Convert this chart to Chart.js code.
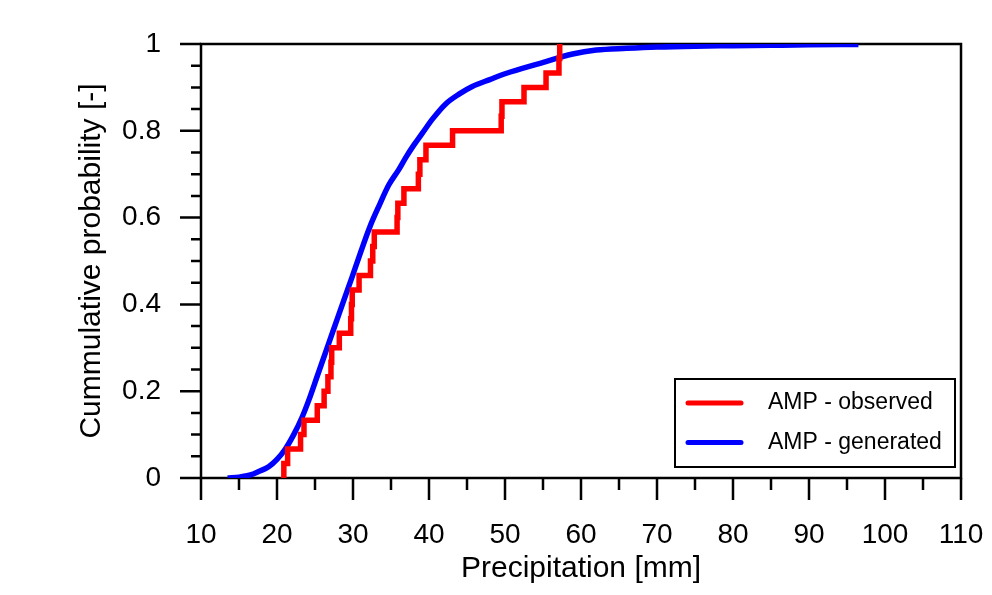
<!DOCTYPE html>
<html>
<head>
<meta charset="utf-8">
<script src="https://cdn.jsdelivr.net/npm/chart.js@4.4.0/dist/chart.umd.min.js"></script>
<style>
    body { margin: 0; background: #fff; }
    #wrap { width: 992px; height: 595px; }
</style>
</head>
<body>
<div id="wrap"><canvas id="cdfChart" width="992" height="595"></canvas></div>
<script>
// observed annual maximum precipitation (sorted) and its empirical probability
const observedX = [20.9, 21.4, 23.1, 23.55, 25.3, 26.2, 26.7, 27.1, 27.2, 28.2,
    29.7, 29.8, 29.9, 30.8, 32.3, 32.6, 32.8, 35.8, 35.9, 36.7,
    38.6, 38.8, 39.6, 43.1, 49.5, 49.6, 52.5, 55.4, 57.1, 57.2];
const observedP = [0.0333, 0.0667, 0.1, 0.1333, 0.1667, 0.2, 0.2333, 0.2667, 0.3, 0.3333,
    0.3667, 0.4, 0.4333, 0.4667, 0.5, 0.5333, 0.5667, 0.6, 0.6333, 0.6667,
    0.7, 0.7333, 0.7667, 0.8, 0.8333, 0.8667, 0.9, 0.9333, 0.9667, 1.0];

// generated series
const generatedX = [13.5, 15, 16.5, 17.6, 18.9, 20, 21.1, 22.2, 23.3, 24.2,
    25.3, 26.2, 27.5, 28.8, 29.9, 31, 32.2, 33.5, 34.7, 36,
    37, 38, 39.1, 40.5, 42.2, 44, 45.7, 48, 50.1, 54.5,
    58.9, 62, 66, 70, 75, 80, 85, 90, 96.5];
const generatedP = [0, 0.002, 0.007, 0.015, 0.026, 0.043, 0.067, 0.1, 0.14, 0.18,
    0.235, 0.28, 0.345, 0.41, 0.464, 0.52, 0.578, 0.63, 0.675, 0.71,
    0.74, 0.767, 0.794, 0.828, 0.862, 0.885, 0.902, 0.918, 0.932, 0.955,
    0.977, 0.986, 0.99, 0.993, 0.995, 0.996, 0.997, 0.998, 0.999];

const xTickValues = [10, 20, 30, 40, 50, 60, 70, 80, 90, 100, 110];
const xMinorValues = [15, 25, 35, 45, 55, 65, 75, 85, 95, 105];
const yTickValues = [0, 0.2, 0.4, 0.6, 0.8, 1];
const yMinorValues = [0.05, 0.1, 0.15, 0.25, 0.3, 0.35, 0.45, 0.5, 0.55,
    0.65, 0.7, 0.75, 0.85, 0.9, 0.95];

const labels = ['AMP - observed', 'AMP - generated'];
const FONT = "'Liberation Sans', Arial, sans-serif";

// observed starts from zero at the first value
let observedPoints = [{ x: observedX[0], y: 0 }];
observedX.forEach((x, i) => observedPoints.push({ x: x, y: observedP[i] }));
let generatedPoints = generatedX.map((x, i) => ({ x: x, y: generatedP[i] }));

// no extra room for half tick labels, the box is fixed
function noPad(s) {
    s.paddingLeft = 0;
    s.paddingRight = 0;
    s.paddingTop = 0;
    s.paddingBottom = 0;
}

// frame + major/minor tick marks drawn outside the plot box
const frameTicks = {
    id: 'frameTicks',
    beforeDatasetsDraw(chart) {
        const { ctx, chartArea: a, scales: { x, y } } = chart;
        ctx.save();
        ctx.strokeStyle = '#000';
        ctx.lineWidth = 2.5;
        ctx.strokeRect(a.left, a.top, a.right - a.left, a.bottom - a.top);
        ctx.beginPath();
        xTickValues.forEach(v => {
            const px = x.getPixelForValue(v);
            ctx.moveTo(px, a.bottom); ctx.lineTo(px, a.bottom + 22);
        });
        xMinorValues.forEach(v => {
            const px = x.getPixelForValue(v);
            ctx.moveTo(px, a.bottom); ctx.lineTo(px, a.bottom + 12);
        });
        yTickValues.forEach(v => {
            const py = y.getPixelForValue(v);
            ctx.moveTo(a.left, py); ctx.lineTo(a.left - 21, py);
        });
        yMinorValues.forEach(v => {
            const py = y.getPixelForValue(v);
            ctx.moveTo(a.left, py); ctx.lineTo(a.left - 10, py);
        });
        ctx.stroke();
        ctx.restore();
    }
};

const legendBox = {
    id: 'legendBox',
    afterDatasetsDraw(chart) {
        const ctx = chart.ctx;
        ctx.save();
        ctx.fillStyle = '#fff';
        ctx.fillRect(675, 379, 280, 88);
        ctx.strokeStyle = '#000';
        ctx.lineWidth = 2;
        ctx.strokeRect(675, 379, 280, 88);
        ctx.font = '23px ' + FONT;
        ctx.textBaseline = 'middle';
        ctx.lineCap = 'round';
        chart.data.datasets.forEach((ds, i) => {
            const yy = 403 + i * 39.5;
            ctx.strokeStyle = ds.borderColor;
            ctx.lineWidth = 5;
            ctx.beginPath();
            ctx.moveTo(688, yy); ctx.lineTo(741, yy);
            ctx.stroke();
            ctx.fillStyle = '#000';
            ctx.fillText(ds.label, 768, yy);
        });
        ctx.restore();
    }
};

new Chart(document.getElementById('cdfChart').getContext('2d'), {
    type: 'line',
    data: {
        datasets: [
            {
                label: labels[0],
                data: observedPoints,
                borderColor: '#ff0000',
                borderWidth: 5.5,
                stepped: 'before',
                pointRadius: 0,
                fill: false
            },
            {
                label: labels[1],
                data: generatedPoints,
                borderColor: '#0000ff',
                borderWidth: 5.5,
                cubicInterpolationMode: 'monotone',
                pointRadius: 0,
                fill: false
            }
        ]
    },
    options: {
        responsive: false,
        animation: false,
        layout: { autoPadding: false, padding: { left: 0, top: 44, right: 31, bottom: 0 } },
        plugins: {
            legend: { display: false },
            tooltip: { enabled: false }
        },
        scales: {
            x: {
                type: 'linear',
                min: 10,
                max: 110,
                afterBuildTicks: s => { s.ticks = xTickValues.map(v => ({ value: v })); },
                afterFit: s => { s.height = 117; noPad(s); },
                grid: { display: false, drawTicks: false },
                border: { display: false },
                ticks: {
                    padding: 40,
                    color: '#000',
                    font: { family: FONT, size: 28 }
                },
                title: {
                    display: true,
                    text: 'Precipitation [mm]',
                    color: '#000',
                    font: { family: FONT, size: 30 },
                    padding: { bottom: 8 }
                }
            },
            y: {
                type: 'linear',
                min: 0,
                max: 1,
                afterBuildTicks: s => { s.ticks = yTickValues.map(v => ({ value: v })); },
                afterFit: s => { s.width = 201; noPad(s); },
                grid: { display: false, drawTicks: false },
                border: { display: false },
                ticks: {
                    padding: 40,
                    color: '#000',
                    font: { family: FONT, size: 28 },
                    callback: v => String(Math.round(v * 10) / 10)
                },
                title: {
                    display: true,
                    text: 'Cummulative probability [-]',
                    color: '#000',
                    font: { family: FONT, size: 30 },
                    padding: { top: 74 }
                }
            }
        }
    },
    plugins: [frameTicks, legendBox]
});
</script>
</body>
</html>
